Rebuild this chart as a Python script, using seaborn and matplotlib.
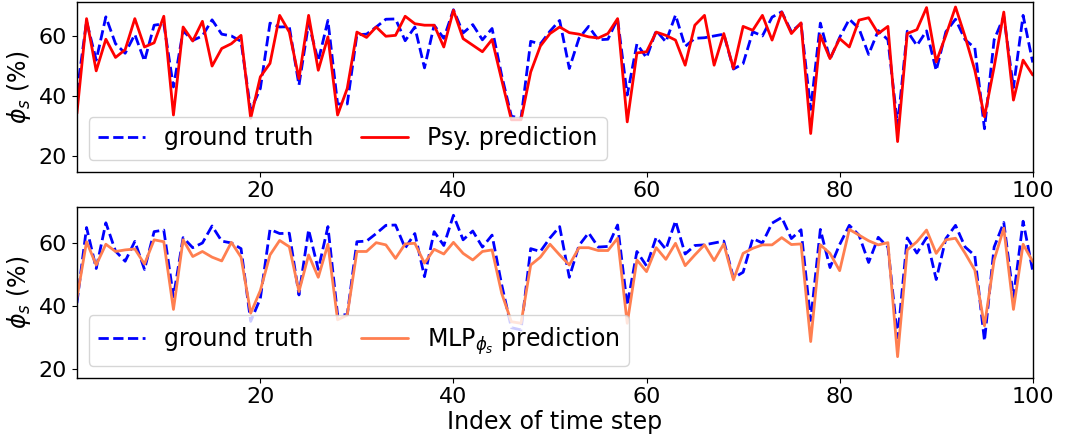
import numpy as np
import pandas as pd
import matplotlib
matplotlib.use("Agg")
import matplotlib.pyplot as plt
import seaborn as sns

# time step index
steps = list(range(1, 101))

ground_truth = [
    41.0, 65.0, 52.0, 66.5, 57.5, 54.3, 60.6, 51.7, 63.7, 64.2,
    43.0, 61.8, 58.6, 60.1, 65.5, 60.7, 60.1, 58.3, 35.2, 42.5,
    64.4, 63.1, 63.2, 43.6, 64.3, 51.7, 65.3, 37.3, 37.3, 60.5,
    60.7, 63.1, 65.7, 65.8, 58.5, 63.1, 49.4, 63.7, 59.3, 68.9,
    61.1, 63.9, 58.8, 62.6, 46.8, 33.2, 32.5, 58.3, 57.4, 61.7,
    65.3, 49.2, 59.3, 63.3, 58.8, 59.0, 65.8, 40.3, 57.4, 52.8,
    61.9, 58.1, 67.1, 56.6, 59.3, 59.5, 60.1, 60.7, 49.0, 50.8,
    61.5, 60.1, 66.4, 68.2, 61.5, 64.3, 35.5, 64.4, 52.3, 59.6,
    65.7, 62.6, 53.9, 61.9, 58.8, 30.0, 61.7, 56.9, 61.8, 48.5,
    61.5, 65.7, 58.8, 56.1, 29.0, 58.8, 66.6, 42.8, 67.0, 51.2,
]

psy_pred = [
    34.1, 65.9, 48.4, 59.0, 52.9, 55.5, 65.9, 56.4, 57.8, 66.7,
    33.6, 63.1, 58.4, 65.0, 50.0, 55.9, 57.5, 60.3, 32.5, 46.4,
    50.9, 67.0, 61.4, 45.8, 67.0, 48.6, 59.8, 33.6, 42.5, 61.4,
    59.6, 63.1, 60.0, 60.3, 66.7, 64.2, 63.7, 63.7, 56.4, 68.7,
    59.2, 57.0, 54.8, 58.9, 45.3, 32.0, 32.0, 48.0, 56.7, 60.9,
    63.1, 61.2, 60.7, 59.8, 59.4, 60.9, 65.9, 31.3, 54.4, 54.8,
    61.4, 60.3, 58.7, 50.3, 63.7, 67.0, 50.3, 60.9, 49.2, 63.3,
    62.0, 67.0, 58.7, 68.1, 60.9, 64.5, 27.4, 60.3, 52.5, 59.2,
    56.4, 65.4, 66.2, 60.9, 63.3, 24.7, 60.9, 62.2, 69.6, 51.4,
    60.3, 69.8, 59.8, 48.6, 33.0, 49.7, 68.1, 38.6, 52.0, 47.0,
]

mlp_pred = [
    42.5, 60.5, 53.1, 59.7, 57.4, 57.9, 58.2, 53.4, 61.1, 60.5,
    39.0, 61.1, 55.8, 57.4, 55.6, 54.4, 60.3, 55.6, 37.8, 45.0,
    56.3, 60.9, 58.9, 44.7, 56.3, 49.2, 59.7, 35.7, 37.2, 57.4,
    57.4, 60.2, 59.5, 55.2, 59.8, 60.0, 53.7, 58.1, 56.6, 60.3,
    56.8, 54.7, 57.4, 57.9, 44.1, 35.1, 34.6, 53.1, 55.6, 59.7,
    56.3, 53.1, 58.6, 58.6, 57.7, 57.7, 61.6, 34.6, 54.7, 51.0,
    58.6, 54.9, 60.0, 52.9, 56.3, 59.5, 54.5, 59.8, 48.4, 56.8,
    58.4, 59.5, 59.5, 61.8, 59.6, 59.8, 28.8, 59.5, 56.8, 51.3,
    64.4, 62.6, 60.8, 59.5, 60.2, 24.0, 57.9, 60.5, 64.2, 56.8,
    61.1, 61.6, 56.8, 51.5, 33.8, 54.7, 64.8, 39.0, 59.7, 54.2,
]

sns.set_style("ticks")
plt.rcParams['font.family'] = ['DejaVu Sans']
plt.rcParams['mathtext.fontset'] = 'dejavusans'
plt.rcParams['text.color'] = 'black'
plt.rcParams['axes.labelcolor'] = 'black'

fig = plt.figure(figsize=(10.68, 4.46), dpi=100)
ax1 = fig.add_axes([0.072, 0.615, 0.895, 0.380])
ax2 = fig.add_axes([0.072, 0.153, 0.895, 0.382])

# top panel: ground truth vs Psy
sns.lineplot(x=steps, y=ground_truth, ax=ax1, color='blue', linestyle='--',
             linewidth=2, label='ground truth')
sns.lineplot(x=steps, y=psy_pred, ax=ax1, color='red', linewidth=2,
             label='Psy. prediction')
ax1.set_ylim(14.6, 71.4)
ax1.set_xlabel('')

# bottom panel: ground truth vs MLP
sns.lineplot(x=steps, y=ground_truth, ax=ax2, color='blue', linestyle='--',
             linewidth=2, label='ground truth')
sns.lineplot(x=steps, y=mlp_pred, ax=ax2, color='coral', linewidth=2,
             label=r'MLP$_{\phi_s}$ prediction')
ax2.set_ylim(17.3, 71.4)
ax2.set_xlabel('Index of time step', fontsize=17, labelpad=2, color='black')

for ax in (ax1, ax2):
    ax.set_xlim(1, 100)
    ax.set_xticks([20, 40, 60, 80, 100])
    ax.set_yticks([20, 40, 60])
    ax.set_ylabel(r'$\phi_s$ (%)', fontsize=17, color='black')
    ax.tick_params(labelsize=16, colors='black')
    for sp in ax.spines.values():
        sp.set_color('black')
        sp.set_linewidth(1)
    leg = ax.legend(loc='lower left', ncol=2, fontsize=17, framealpha=0.8)
    for t in leg.get_texts():
        t.set_color('black')

fig.savefig('out.png', dpi=100)
